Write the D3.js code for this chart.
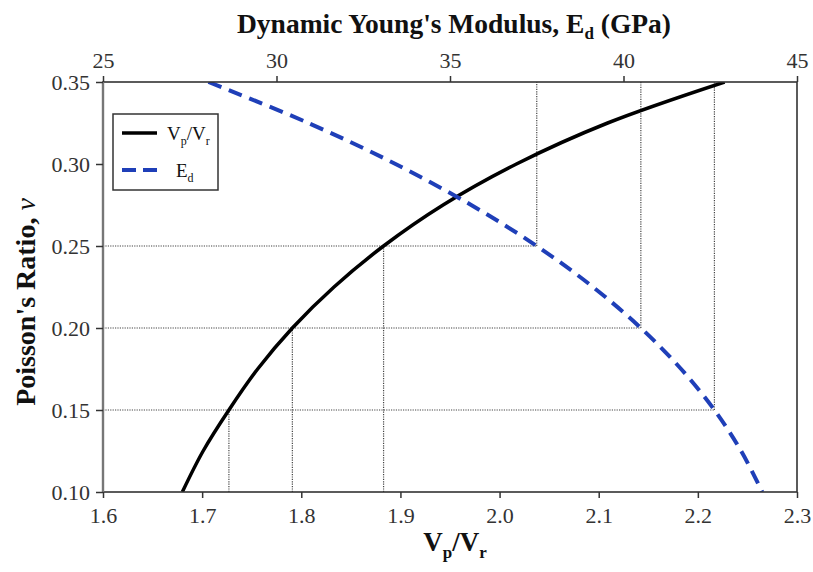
<!DOCTYPE html>
<html>
<head>
<meta charset="utf-8">
<script src="https://cdn.jsdelivr.net/npm/d3@7"></script>
<style>
  html, body { margin: 0; padding: 0; background: #fff; }
  svg { display: block; font-family: "Liberation Serif", "Times New Roman", serif; }
</style>
</head>
<body>
<svg id="chart" width="813" height="572"></svg>
<script>
// Poisson's ratio samples (left axis)
const nu = [0.100, 0.125, 0.150, 0.175, 0.200, 0.225, 0.250, 0.275, 0.300, 0.325, 0.350];
// Vp/Vr ratio for each Poisson's ratio (bottom axis)
const vpVr = [1.680, 1.701, 1.727, 1.756, 1.791, 1.833, 1.883, 1.943, 2.017, 2.109, 2.227];
// Dynamic Young's modulus in GPa for each Poisson's ratio (top axis)
const ed = [44.00, 43.39, 42.62, 41.66, 40.50, 39.12, 37.50, 35.61, 33.43, 30.92, 28.04];
// Poisson's ratios marked with dotted guide lines
const guideNu = [0.15, 0.20, 0.25];

const xTicks = [1.6, 1.7, 1.8, 1.9, 2.0, 2.1, 2.2, 2.3];
const topTicks = [25, 30, 35, 40, 45];
const yTicks = [0.10, 0.15, 0.20, 0.25, 0.30, 0.35];

(function draw() {
  const pLeft = 103, pRight = 797, pTop = 82, pBottom = 492;
  const serif = "'Liberation Serif', 'Times New Roman', serif";

  const svg = d3.select("#chart");
  const x = d3.scaleLinear().domain([1.6, 2.3]).range([pLeft, pRight]);
  const xTop = d3.scaleLinear().domain([25, 45]).range([pLeft, pRight]);
  const y = d3.scaleLinear().domain([0.10, 0.35]).range([pBottom, pTop]);

  const axisColor = "#333";
  const blue = "#1f3fb8";

  svg.append("defs").append("clipPath").attr("id", "plotClip")
    .append("rect").attr("x", pLeft).attr("y", pTop)
    .attr("width", pRight - pLeft).attr("height", pBottom - pTop);

  // dotted guide lines
  const guides = svg.append("g")
    .attr("stroke", "#444").attr("stroke-width", 1.2)
    .attr("stroke-dasharray", "1.2,1.2").attr("fill", "none");

  guideNu.forEach(v => {
    const i = nu.findIndex(n => Math.abs(n - v) < 1e-9);
    const xe = xTop(ed[i]);
    const xv = x(vpVr[i]);
    // horizontal: left axis to the modulus curve
    guides.append("line").attr("x1", pLeft).attr("x2", xe)
      .attr("y1", y(v)).attr("y2", y(v));
    // vertical: modulus curve up to the top axis
    guides.append("line").attr("x1", xe).attr("x2", xe)
      .attr("y1", y(v)).attr("y2", pTop);
    // vertical: bottom axis up to the velocity-ratio curve
    guides.append("line").attr("x1", xv).attr("x2", xv)
      .attr("y1", pBottom).attr("y2", y(v));
  });

  // curves
  const plot = svg.append("g").attr("clip-path", "url(#plotClip)");
  const idx = d3.range(nu.length);

  const vrLine = d3.line()
    .x(i => x(vpVr[i])).y(i => y(nu[i]))
    .curve(d3.curveCatmullRom.alpha(0.5));
  const edLine = d3.line()
    .x(i => xTop(ed[i])).y(i => y(nu[i]))
    .curve(d3.curveCatmullRom.alpha(0.5));

  plot.append("path").datum(idx).attr("d", vrLine)
    .attr("fill", "none").attr("stroke", "#000").attr("stroke-width", 3.5);

  plot.append("path").datum(idx.slice().reverse()).attr("d", edLine)
    .attr("fill", "none").attr("stroke", blue).attr("stroke-width", 4)
    .attr("stroke-dasharray", "14,8");

  // frame
  svg.append("rect").attr("x", pLeft).attr("y", pTop)
    .attr("width", pRight - pLeft).attr("height", pBottom - pTop)
    .attr("fill", "none").attr("stroke", axisColor).attr("stroke-width", 1.6);
  svg.append("line").attr("x1", pLeft).attr("x2", pLeft).attr("y1", pTop).attr("y2", pBottom)
    .attr("stroke", "#777").attr("stroke-width", 2.4);

  // axes
  const gB = svg.append("g").attr("transform", `translate(0,${pBottom})`)
    .call(d3.axisBottom(x).tickValues(xTicks).tickFormat(d3.format(".1f")).tickSizeInner(6).tickSizeOuter(0).tickPadding(9));
  const gT = svg.append("g").attr("transform", `translate(0,${pTop})`)
    .call(d3.axisTop(xTop).tickValues(topTicks).tickFormat(d3.format("d")).tickSizeInner(6).tickSizeOuter(0).tickPadding(8));
  const gL = svg.append("g").attr("transform", `translate(${pLeft},0)`)
    .call(d3.axisLeft(y).tickValues(yTicks).tickFormat(d3.format(".2f")).tickSizeInner(7).tickSizeOuter(0).tickPadding(6));

  [gB, gT, gL].forEach(g => {
    g.attr("font-family", serif).attr("font-size", 22);
    g.select(".domain").remove();
    g.selectAll(".tick line").attr("stroke", axisColor).attr("stroke-width", 1.5);
    g.selectAll(".tick text").attr("fill", "#333");
  });

  // axis titles
  const title = svg.append("text").attr("x", 454).attr("y", 33)
    .attr("text-anchor", "middle").attr("font-weight", "bold").attr("font-size", 27.5).attr("fill", "#111");
  title.append("tspan").text("Dynamic Young's Modulus, E");
  title.append("tspan").attr("font-size", 17).attr("dy", 6).text("d");
  title.append("tspan").attr("dy", -6).text(" (GPa)");

  const xt = svg.append("text").attr("x", 455).attr("y", 551)
    .attr("text-anchor", "middle").attr("font-weight", "bold").attr("font-size", 27).attr("fill", "#111");
  xt.append("tspan").text("V");
  xt.append("tspan").attr("font-size", 17).attr("dy", 7).text("p");
  xt.append("tspan").attr("dy", -7).text("/V");
  xt.append("tspan").attr("font-size", 17).attr("dy", 7).text("r");

  const yt = svg.append("text")
    .attr("transform", `translate(35,302) rotate(-90)`)
    .attr("text-anchor", "middle").attr("font-weight", "bold").attr("font-size", 28).attr("fill", "#111");
  yt.append("tspan").text("Poisson's Ratio, ");
  yt.append("tspan").attr("font-style", "italic").attr("font-weight", "normal").text("ν");

  // legend
  const lg = svg.append("g");
  lg.append("rect").attr("x", 113).attr("y", 114).attr("width", 105).attr("height", 76)
    .attr("fill", "#fff").attr("stroke", axisColor).attr("stroke-width", 1.5);
  lg.append("line").attr("x1", 122).attr("x2", 157).attr("y1", 133).attr("y2", 133)
    .attr("stroke", "#000").attr("stroke-width", 3.5);
  lg.append("line").attr("x1", 122).attr("x2", 157).attr("y1", 170).attr("y2", 170)
    .attr("stroke", blue).attr("stroke-width", 4).attr("stroke-dasharray", "14,7");
  const l1 = lg.append("text").attr("x", 167).attr("y", 140).attr("font-size", 19).attr("fill", "#111");
  l1.append("tspan").text("V");
  l1.append("tspan").attr("font-size", 12).attr("dy", 5).text("p");
  l1.append("tspan").attr("dy", -5).text("/V");
  l1.append("tspan").attr("font-size", 12).attr("dy", 5).text("r");
  const l2 = lg.append("text").attr("x", 176).attr("y", 177).attr("font-size", 19).attr("fill", "#111");
  l2.append("tspan").text("E");
  l2.append("tspan").attr("font-size", 12).attr("dy", 5).text("d");
})();
</script>
</body>
</html>
